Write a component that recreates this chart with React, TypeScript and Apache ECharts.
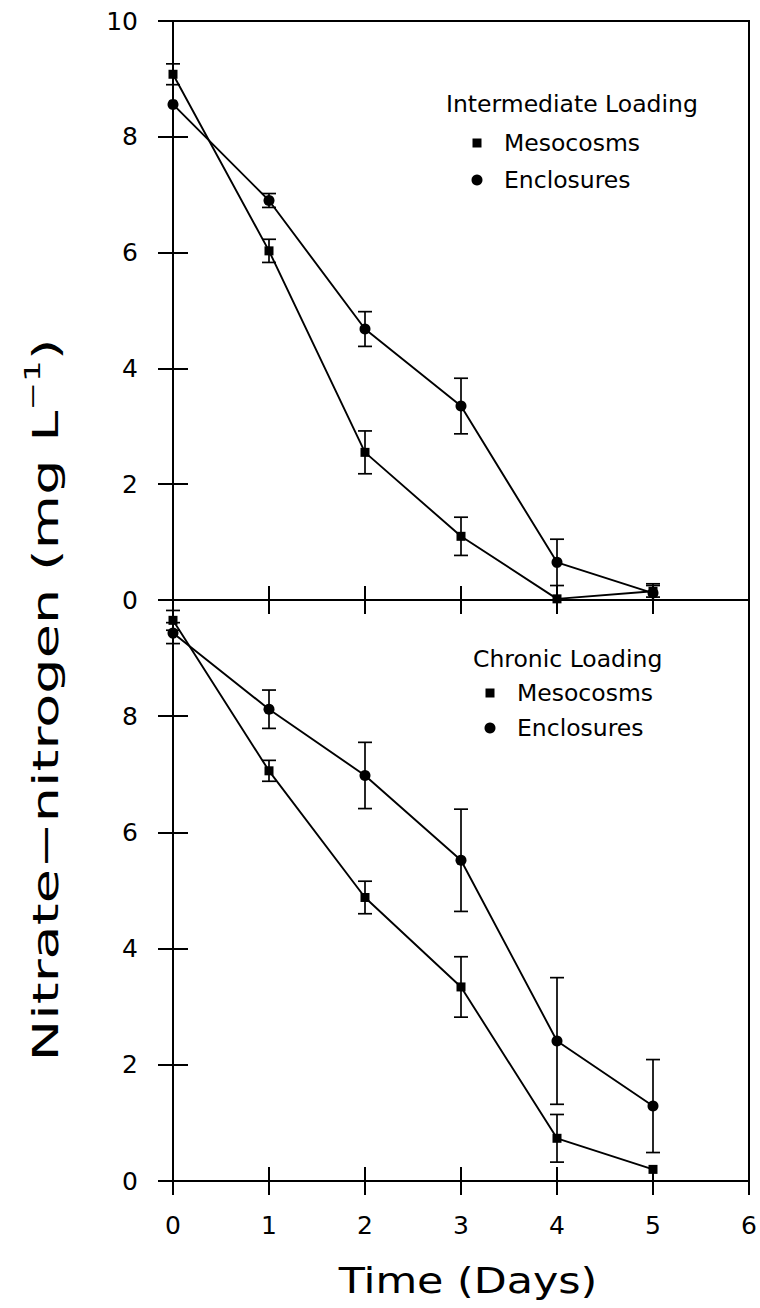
import React, { useEffect, useRef } from "react";
import * as echarts from "echarts";

// Sampling days
const days = [0, 1, 2, 3, 4, 5];

// Intermediate loading: nitrate-N (mg/L) and error-bar half widths
const interMeso = [9.08, 6.03, 2.55, 1.1, 0.02, 0.15];
const interMesoErr = [0.18, 0.2, 0.37, 0.33, 0, 0.1];
const interEncl = [8.56, 6.9, 4.68, 3.35, 0.65, 0.12];
const interEnclErr = [0, 0.12, 0.3, 0.48, 0.4, 0.16];

// Chronic loading
const chronMeso = [9.65, 7.06, 4.88, 3.34, 0.735, 0.2];
const chronMesoErr = [0.17, 0.18, 0.28, 0.52, 0.41, 0];
const chronEncl = [9.43, 8.12, 6.98, 5.52, 2.41, 1.29];
const chronEnclErr = [0.18, 0.33, 0.57, 0.88, 1.09, 0.8];

const FONT = "DejaVu Sans";
const INK = "#000";

const LEFT = 173;
const WIDTH = 576;
const TOP = 21;
const MID = 600;
const BOTTOM = 1181;

function xAxisFor(gridIndex: number, inside: boolean, labels: boolean) {
  return {
    type: "value",
    gridIndex,
    min: 0,
    max: 6,
    interval: 1,
    axisLine: { show: !inside, onZero: false, lineStyle: { color: INK, width: 2 } },
    axisTick: { show: true, inside, length: 14, lineStyle: { color: INK, width: 2 } },
    axisLabel: { show: labels, margin: 32, fontFamily: FONT, fontSize: 25, color: INK },
    splitLine: { show: false },
  };
}

function yAxisFor(gridIndex: number, inside: boolean, labels: boolean, hideTop: boolean) {
  return {
    type: "value",
    gridIndex,
    min: 0,
    max: 10,
    interval: 2,
    axisLine: { show: !inside, onZero: false, lineStyle: { color: INK, width: 2 } },
    axisTick: { show: true, inside, length: 15, lineStyle: { color: INK, width: 2 } },
    axisLabel: {
      show: labels,
      margin: 35,
      fontFamily: FONT,
      fontSize: 25,
      color: INK,
      formatter: (v: number) => (hideTop && v === 10 ? "" : String(v)),
    },
    splitLine: { show: false },
  };
}

function lineSeries(name: string, values: number[], symbol: string, size: number, axis: number) {
  return {
    type: "line",
    name,
    xAxisIndex: axis,
    yAxisIndex: axis,
    data: days.map((d, i) => [d, values[i]]),
    symbol,
    symbolSize: size,
    showAllSymbol: true,
    itemStyle: { color: INK, borderWidth: 0 },
    lineStyle: { color: INK, width: 1.9 },
    z: 4,
  };
}

function errorSeries(values: number[], errs: number[], axis: number) {
  return {
    type: "custom",
    xAxisIndex: axis,
    yAxisIndex: axis,
    data: days
      .map((d, i) => [d, Math.max(0, values[i] - errs[i]), values[i] + errs[i], errs[i]])
      .filter((r) => r[3] > 0),
    encode: { x: 0, y: [1, 2] },
    z: 3,
    renderItem: (_params: any, api: any) => {
      const x = api.value(0);
      const lo = api.coord([x, api.value(1)]);
      const hi = api.coord([x, api.value(2)]);
      const w = 7;
      const style = { stroke: INK, lineWidth: 1.7 };
      return {
        type: "group",
        children: [
          { type: "line", shape: { x1: hi[0], y1: hi[1], x2: lo[0], y2: lo[1] }, style },
          { type: "line", shape: { x1: hi[0] - w, y1: hi[1], x2: hi[0] + w, y2: hi[1] }, style },
          { type: "line", shape: { x1: lo[0] - w, y1: lo[1], x2: lo[0] + w, y2: lo[1] }, style },
        ],
      };
    },
  };
}

function legendBlock(title: string, tx: number, ty: number, mx: number, lx: number, y1: number, y2: number) {
  const font = `23.5px "${FONT}"`;
  return [
    { type: "text", left: tx, top: ty - 12, style: { text: title, font, fill: INK } },
    { type: "rect", shape: { x: mx - 4.5, y: y1 - 4.5, width: 9, height: 9 }, style: { fill: INK } },
    { type: "text", left: lx, top: y1 - 12, style: { text: "Mesocosms", font, fill: INK } },
    { type: "circle", shape: { cx: mx, cy: y2, r: 5.5 }, style: { fill: INK } },
    { type: "text", left: lx, top: y2 - 12, style: { text: "Enclosures", font, fill: INK } },
  ];
}

export default function App() {
  const ref = useRef<HTMLDivElement>(null);

  useEffect(() => {
    document.body.style.margin = "0";
    if (!ref.current) return;
    const chart = echarts.init(ref.current, undefined, { renderer: "svg" });

    const option: any = {
      animation: false,
      backgroundColor: "#fff",
      grid: [
        { left: LEFT, top: TOP, width: WIDTH, height: MID - TOP, show: true, borderColor: INK, borderWidth: 2, backgroundColor: "transparent" },
        { left: LEFT, top: TOP, width: WIDTH, height: MID - TOP, show: false },
        { left: LEFT, top: MID, width: WIDTH, height: BOTTOM - MID, show: true, borderColor: INK, borderWidth: 2, backgroundColor: "transparent" },
        { left: LEFT, top: MID, width: WIDTH, height: BOTTOM - MID, show: false },
      ],
      xAxis: [
        xAxisFor(0, false, false),
        xAxisFor(1, true, false),
        xAxisFor(2, false, true),
        xAxisFor(3, true, false),
      ],
      yAxis: [
        yAxisFor(0, false, true, false),
        yAxisFor(1, true, false, false),
        yAxisFor(2, false, true, true),
        yAxisFor(3, true, false, false),
      ],
      series: [
        errorSeries(interMeso, interMesoErr, 0),
        errorSeries(interEncl, interEnclErr, 0),
        lineSeries("Mesocosms", interMeso, "rect", 9, 0),
        lineSeries("Enclosures", interEncl, "circle", 11, 0),
        errorSeries(chronMeso, chronMesoErr, 2),
        errorSeries(chronEncl, chronEnclErr, 2),
        lineSeries("Mesocosms", chronMeso, "rect", 9, 2),
        lineSeries("Enclosures", chronEncl, "circle", 11, 2),
      ],
      graphic: [
        ...legendBlock("Intermediate Loading", 446, 104, 477, 504, 143, 180),
        ...legendBlock("Chronic Loading", 473, 659, 490, 517, 693, 728),
        // x-axis title, drawn with a wide letter form
        {
          type: "text",
          x: 468,
          y: 1280,
          scaleX: 1.19,
          style: {
            text: "Time (Days)",
            font: `36px "${FONT}"`,
            fill: INK,
            align: "center",
            verticalAlign: "middle",
          },
        },
        // y-axis title spanning both panels
        {
          type: "text",
          x: 45,
          y: 700,
          rotation: Math.PI / 2,
          scaleX: 1.55,
          style: {
            text: "{a|Nitrate\u2212nitrogen (mg L}{s|\u22121}{a|)}",
            align: "center",
            verticalAlign: "middle",
            fill: INK,
            rich: {
              a: { fontFamily: FONT, fontSize: 36, lineHeight: 48, fill: INK, verticalAlign: "middle" },
              s: { fontFamily: FONT, fontSize: 22, lineHeight: 22, fill: INK, verticalAlign: "top" },
            },
          },
        },
      ],
    };

    chart.setOption(option);
    return () => chart.dispose();
  }, []);

  return <div ref={ref} style={{ width: 760, height: 1308 }} />;
}
